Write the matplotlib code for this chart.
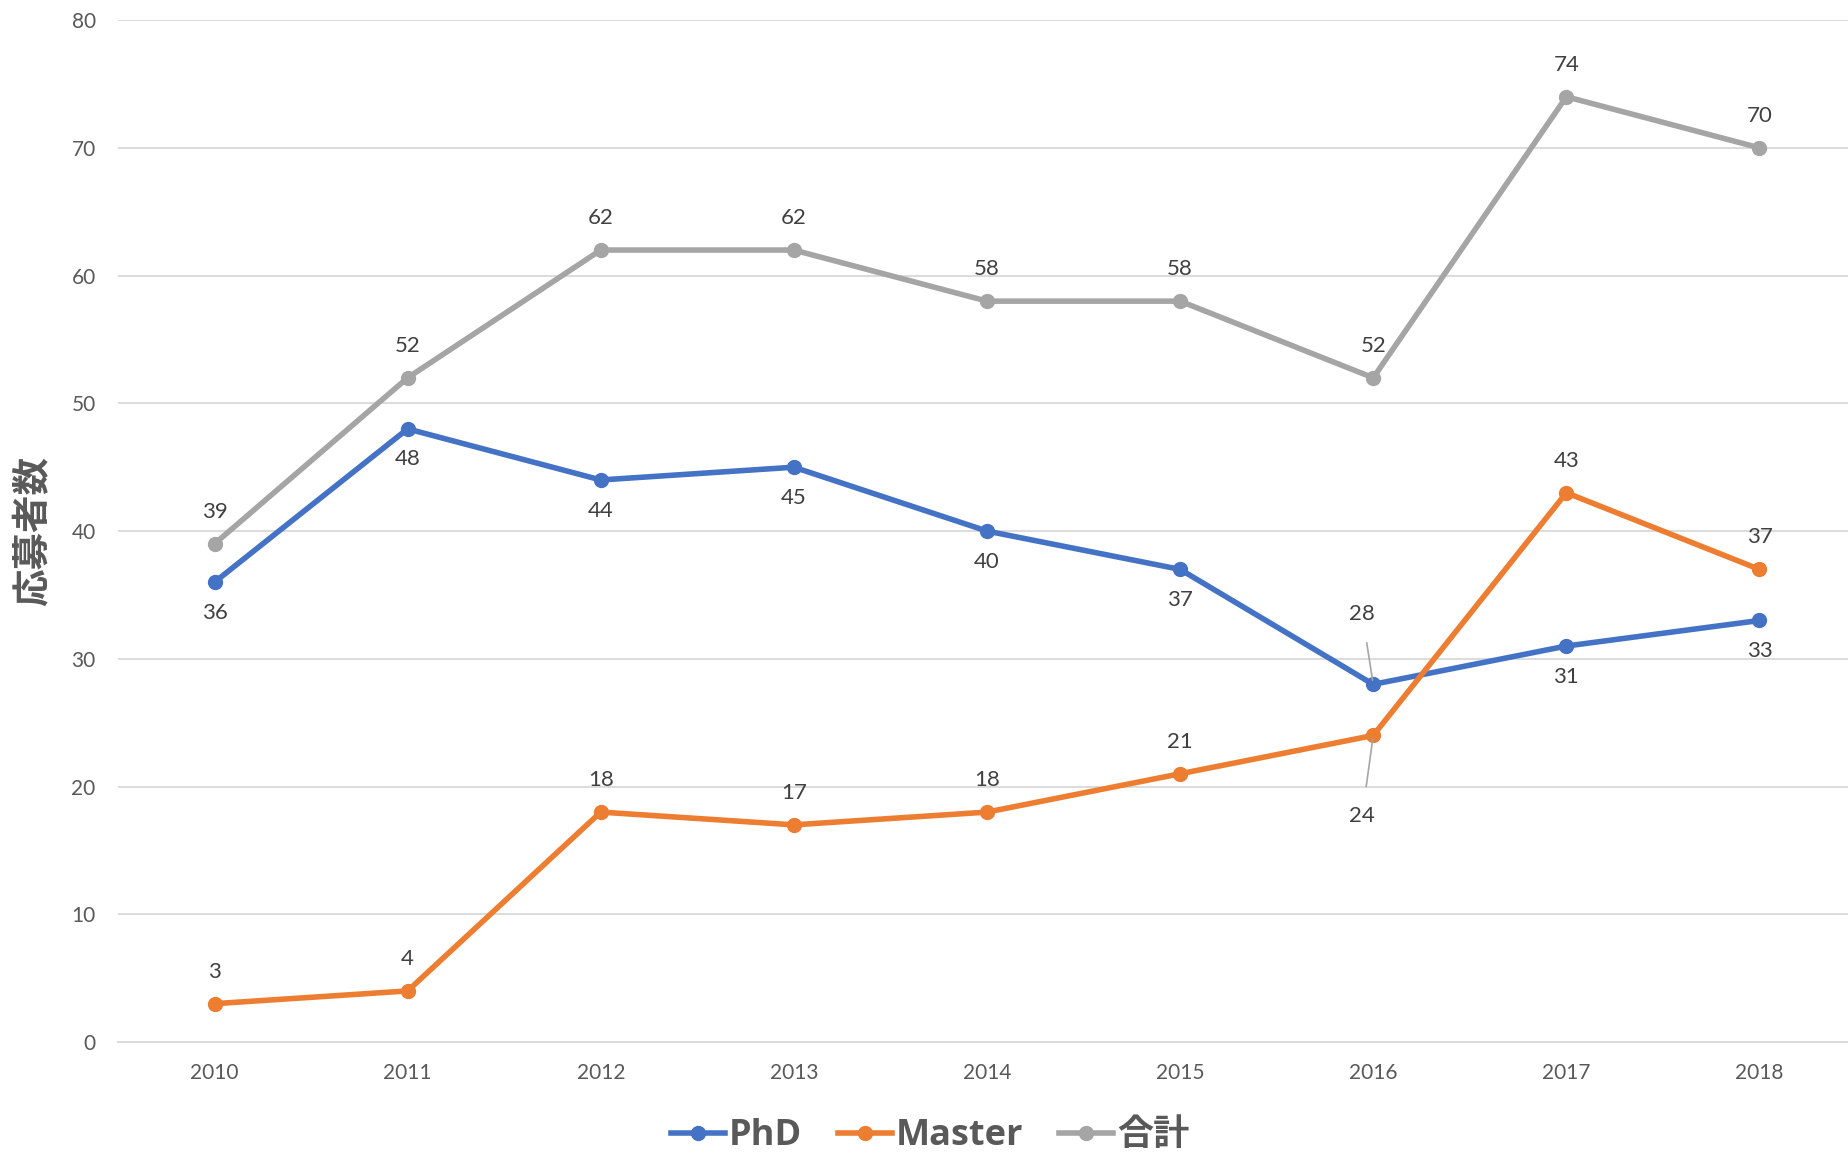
import matplotlib
matplotlib.use("Agg")
import matplotlib.pyplot as plt

plt.rcParams['font.family'] = ['Lato', 'Noto Sans CJK JP', 'DejaVu Sans']

years = ['2010', '2011', '2012', '2013', '2014', '2015', '2016', '2017', '2018']
phd = [36, 48, 44, 45, 40, 37, 28, 31, 33]
master = [3, 4, 18, 17, 18, 21, 24, 43, 37]
total = [39, 52, 62, 62, 58, 58, 52, 74, 70]

c_phd = '#4472C4'
c_master = '#ED7D31'
c_total = '#A5A5A5'
lab_col = '#404040'
tick_col = '#595959'

fig = plt.figure(figsize=(18.49, 11.56), dpi=100)
ax = fig.add_axes([0.0638, 0.0986, 0.94, 0.884])

x = list(range(len(years)))
ax.plot(x, phd, color=c_phd, lw=4, marker='o', ms=10, label='PhD', zorder=3)
ax.plot(x, master, color=c_master, lw=4, marker='o', ms=10, label='Master', zorder=3)
ax.plot(x, total, color=c_total, lw=4, marker='o', ms=10, label='合計', zorder=3)

def label(i, v, dy):
    ax.annotate(str(v), (i, v), xytext=(0, dy), textcoords='offset points',
                ha='center', va='center', fontsize=16, color=lab_col)

for i, v in enumerate(total):
    label(i, v, 23)
for i, v in enumerate(phd):
    if i == 6:
        continue
    label(i, v, -22)
for i, v in enumerate(master):
    if i == 6:
        continue
    label(i, v, 23)

# 2016 labels with leader lines
ax.annotate(str(phd[6]), (6, phd[6]), xytext=(-8, 51), textcoords='offset points',
            ha='center', va='center', fontsize=16, color=lab_col,
            arrowprops=dict(arrowstyle='-', color='#A6A6A6', lw=1.2, shrinkA=12, shrinkB=3))
ax.annotate(str(master[6]), (6, master[6]), xytext=(-8, -58), textcoords='offset points',
            ha='center', va='center', fontsize=16, color=lab_col,
            arrowprops=dict(arrowstyle='-', color='#A6A6A6', lw=1.2, shrinkA=12, shrinkB=3))

ax.set_xlim(-0.5, 8.5)
ax.set_ylim(0, 80)
ax.set_xticks(x)
ax.set_xticklabels(years)
ax.set_yticks(range(0, 81, 10))
ax.grid(axis='y', color='#D9D9D9', lw=1.3)
ax.set_axisbelow(True)
for s in ['top', 'right', 'left']:
    ax.spines[s].set_visible(False)
ax.spines['bottom'].set_color('#D9D9D9')
ax.spines['bottom'].set_linewidth(1.3)
ax.tick_params(axis='both', length=0, labelsize=15, colors=tick_col)
ax.tick_params(axis='y', pad=16)
ax.tick_params(axis='x', pad=15)

fig.text(0.018, 0.541, '応募者数', rotation=90, ha='center', va='center',
         fontsize=27, fontweight='bold', color=tick_col,
         family=['Noto Sans CJK JP', 'DejaVu Sans'])

leg = fig.legend(loc='center', bbox_to_anchor=(0.503, 0.017), ncol=3, frameon=False,
                 handlelength=1.5, columnspacing=1.0, handletextpad=0.1,
                 prop={'weight': 'bold', 'size': 26,
                       'family': ['Open Sans', 'Noto Sans CJK JP', 'DejaVu Sans']})
for t in leg.get_texts():
    t.set_color(tick_col)

fig.savefig('out.png', dpi=100)
